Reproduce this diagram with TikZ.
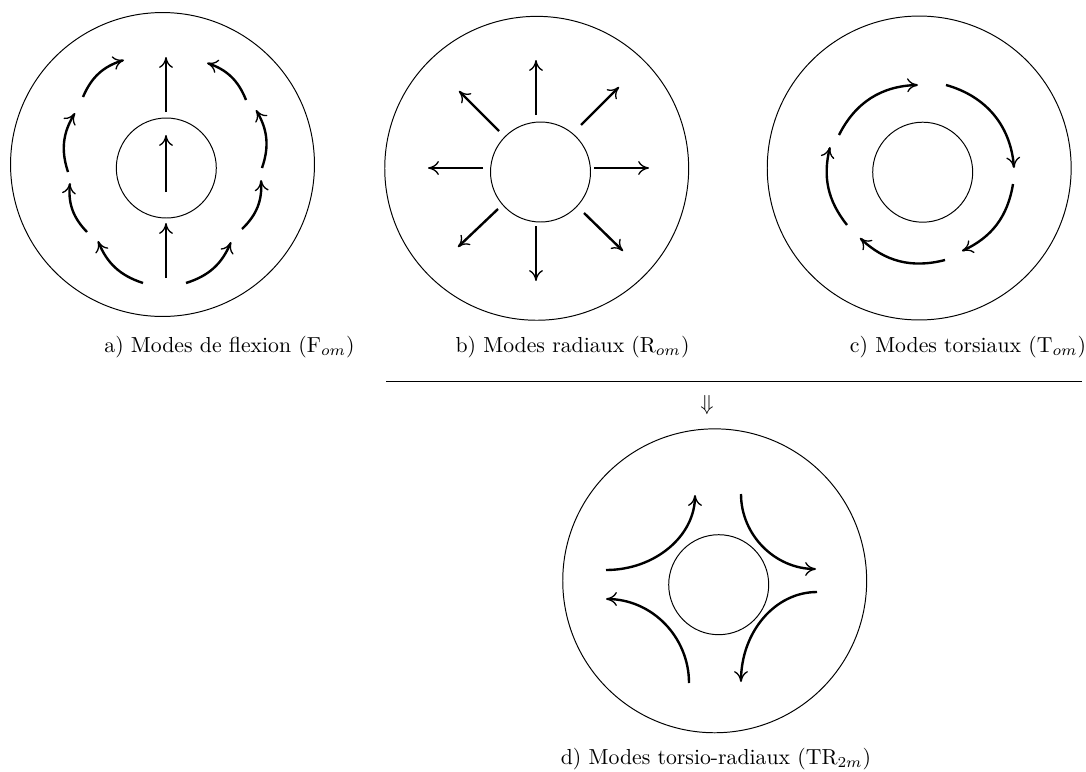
\documentclass[tikz,border=0pt]{standalone}
\usetikzlibrary{arrows.meta}
\begin{document}
\begin{tikzpicture}[x=0.46pt,y=-0.46pt,
  ring/.style={line width=0.45pt},
  flow/.style={line width=1.1pt,-{Computer Modern Rightarrow[length=5pt,width=6.4pt,line width=0.6pt]}},
  captxt/.style={anchor=base,inner sep=0pt}]
\useasboundingbox (0,0) rectangle (1086,771);
% ---------- a) flexion
\coordinate (Ao) at (162.5,164.5);
\coordinate (Ai) at (166.3,168);
\draw[ring] (Ao) circle[radius=69.9pt];
\draw[ring] (Ai) circle[radius=23pt];
\draw[flow] (166,112) -- (166,57);
\draw[flow] (166,192) -- (166,135);
\draw[flow] (166,278) -- (166,223);
\draw[flow] (143,283) to[bend left=25] (98,241);
\draw[flow] (87,232) to[bend left=25] (70,183);
\draw[flow] (68,172) to[bend left=25] (75,113);
\draw[flow] (83,97) to[bend left=25] (124,60);
\draw[flow] (186,283) to[bend right=25] (231,242);
\draw[flow] (242,229) to[bend right=25] (261,180);
\draw[flow] (262,168) to[bend right=25] (256,110);
\draw[flow] (246,100) to[bend right=25] (207,63);
% ---------- b) radial
\coordinate (Bo) at (536.7,168.3);
\coordinate (Bi) at (540.5,172);
\draw[ring] (Bo) circle[radius=69.9pt];
\draw[ring] (Bi) circle[radius=23pt];
\draw[flow] (536,115) -- (536,60);
\draw[flow] (536,226) -- (536,281);
\draw[flow] (483,168) -- (428,168);
\draw[flow] (594,168) -- (649,168);
\draw[flow] (499,131) -- (459,91);
\draw[flow] (581,125) -- (619,87);
\draw[flow] (498,209) -- (458,247);
\draw[flow] (584,213) -- (623,251);
% ---------- c) torsion
\coordinate (Co) at (919.2,168);
\coordinate (Ci) at (922.7,172.2);
\draw[ring] (Co) circle[radius=69.9pt];
\draw[ring] (Ci) circle[radius=23pt];
\draw[flow] (839,135) to[bend left=31] (918,85);
\draw[flow] (946,85) to[bend left=35] (1014,168);
\draw[flow] (1013,184) to[bend left=28] (962,251);
\draw[flow] (945,260) to[bend left=29] (860,238);
\draw[flow] (847,225) to[bend left=26] (830,147);
% ---------- d) torsio-radial
\coordinate (Do) at (714.7,580.8);
\coordinate (Di) at (718.7,584.7);
\draw[ring] (Do) circle[radius=69.9pt];
\draw[ring] (Di) circle[radius=23pt];
\draw[flow] (606,570) .. controls (655,570) and (695,536) .. (695,495);
\draw[flow] (741,494) .. controls (741,535) and (775,569) .. (816,569);
\draw[flow] (817,592) .. controls (775,592) and (741,632) .. (741,682);
\draw[flow] (689,683) .. controls (689,637) and (652,599) .. (606,599);
% ---------- captions
\node[captxt] (capa) at (229.5,352) {a) Modes de flexion (F$_{om}$)};
\node[captxt] (capb) at (572.5,352) {b) Modes radiaux (R$_{om}$)};
\node[captxt] (capc) at (968,352) {c) Modes torsiaux (T$_{om}$)};
\coordinate (rl) at (386,381);
\coordinate (rr) at (1082,381);
\draw[ring] (rl) -- (rr);
\node[captxt] (imp) at (707,410) {$\Downarrow$};
\node[captxt] (capd) at (716,764) {d) Modes torsio-radiaux (TR$_{2m}$)};
\end{tikzpicture}
\end{document}
